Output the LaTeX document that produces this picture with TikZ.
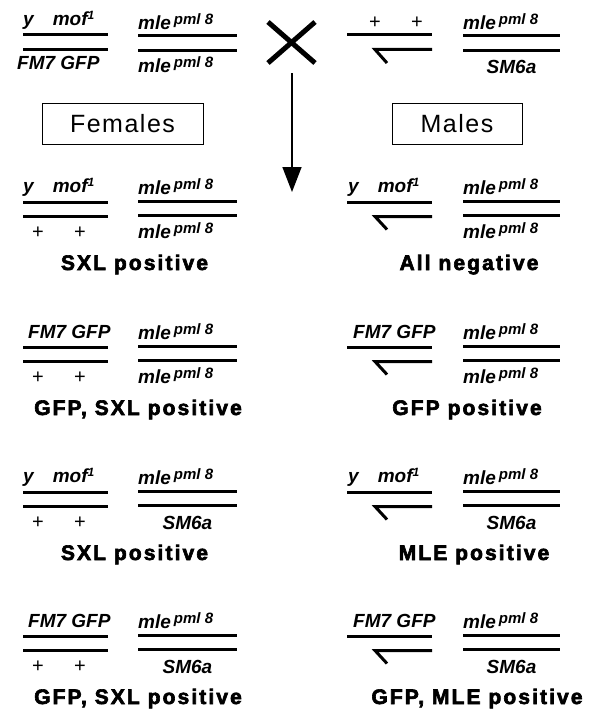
\documentclass[tikz,border=0pt]{standalone}
\usepackage{fontspec}
\setmainfont{Liberation Sans}
\usetikzlibrary{arrows.meta}
\newfontfamily\genoff{Liberation Sans}
\newfontfamily\labff{Liberation Sans}[LetterSpace=10,FakeBold=3]
\newfontfamily\boxff{Liberation Sans}[LetterSpace=6]
\newcommand\geno{\genoff\bfseries\itshape\fontsize{19}{19}\selectfont}
\newcommand\labf{\labff\bfseries\fontsize{21}{21}\selectfont}
\newcommand\boxf{\boxff\fontsize{25}{25}\selectfont}
\newcommand\pmlsup{\hspace{3pt}\raisebox{5pt}{\fontsize{15}{15}\selectfont pml 8}}
\newcommand\mofsup{\raisebox{6pt}{\fontsize{12}{12}\selectfont 1}}
\begin{document}
\begin{tikzpicture}[x=1pt,y=-1pt,
  bar/.style={line width=3pt},
  hookbar/.style={line width=3pt,line join=miter},
  geno/.style={inner sep=0pt,font=\geno},
  plus/.style={inner sep=0pt,font=\fontsize{20}{20}\selectfont},
  lab/.style={inner sep=0pt,font=\labf,anchor=base},
  sexbox/.style={draw,line width=0.8pt,minimum height=41pt,inner sep=0pt,font=\boxf}]
\useasboundingbox (0,0) rectangle (598,709);

% ---------- parents ----------
% female parent
\draw[bar] (23,35)--(108,35);
\draw[bar] (23,49.5)--(108,49.5);
\node[geno,anchor=base west] (pf1) at (23,25.5) {y\hspace{19pt}mof\mofsup};
\node[geno,anchor=base west] (pf2) at (17,70) {FM7 GFP};
\draw[bar] (138,35.5)--(237,35.5);
\draw[bar] (138,50.5)--(237,50.5);
\node[geno,anchor=base west] (pf3) at (138,30) {mle\pmlsup};
\node[geno,anchor=base west] (pf4) at (138,72) {mle\pmlsup};

% cross
\draw[line width=5pt] (268,22)--(315,63);
\draw[line width=5pt] (315,22)--(268,63);
\coordinate (arrS) at (292,73);
\coordinate (arrE) at (292,192);
\draw[line width=1.5pt,-{Triangle[length=25pt,width=19pt]}] (arrS)--(arrE);

% male parent
\draw[bar] (347,35)--(432,35);
\draw[hookbar] (387,63)--(375,49.5)--(432,49.5);
\node[plus] (pm1) at (375,23) {+};
\node[plus] (pm2) at (417,23) {+};
\draw[bar] (463,35.5)--(560,35.5);
\draw[bar] (463,50.5)--(560,50.5);
\node[geno,anchor=base west] (pm3) at (463,30) {mle\pmlsup};
\node[geno,anchor=base] (pm4) at (511.5,74) {SM6a};

% boxes
\node[sexbox,minimum width=161pt] (fembox) at (122.5,123.5) {Females};
\node[sexbox,minimum width=130pt] (malebox) at (457,123.5) {Males};

% ---------- row 1 ----------
\begin{scope}[shift={(0,202)}]
\draw[bar] (23,0)--(108,0);
\draw[bar] (23,14.5)--(108,14.5);
\node[geno,anchor=base west] (a1) at (23,-9.5) {y\hspace{19pt}mof\mofsup};
\node[plus] (a2) at (38,31) {+};
\node[plus] (a3) at (80,31) {+};
\draw[bar] (138,-1)--(237,-1);
\draw[bar] (138,13.5)--(237,13.5);
\node[geno,anchor=base west] (a4) at (138,-8) {mle\pmlsup};
\node[geno,anchor=base west] (a5) at (138,36) {mle\pmlsup};
\node[lab] (a6) at (134.5,68) {SXL positive};
%
\draw[bar] (347,0)--(432,0);
\draw[hookbar] (387,27.5)--(375,14.5)--(432,14.5);
\node[geno,anchor=base west] (b1) at (348,-9.5) {y\hspace{19pt}mof\mofsup};
\draw[bar] (463,-1)--(560,-1);
\draw[bar] (463,13.5)--(560,13.5);
\node[geno,anchor=base west] (b2) at (463,-8) {mle\pmlsup};
\node[geno,anchor=base west] (b3) at (463,36) {mle\pmlsup};
\node[lab] (b4) at (469,68) {All negative};
\end{scope}

% ---------- row 2 ----------
\begin{scope}[shift={(0,347)}]
\draw[bar] (23,0)--(108,0);
\draw[bar] (23,14.5)--(108,14.5);
\node[geno,anchor=base west] (c1) at (28,-8.5) {FM7 GFP};
\node[plus] (c2) at (38,31) {+};
\node[plus] (c3) at (80,31) {+};
\draw[bar] (138,-1)--(237,-1);
\draw[bar] (138,13.5)--(237,13.5);
\node[geno,anchor=base west] (c4) at (138,-8) {mle\pmlsup};
\node[geno,anchor=base west] (c5) at (138,36) {mle\pmlsup};
\node[lab] (c6) at (138,68) {GFP, SXL positive};
%
\draw[bar] (347,0)--(432,0);
\draw[hookbar] (387,27.5)--(375,14.5)--(432,14.5);
\node[geno,anchor=base west] (d1) at (353,-8.5) {FM7 GFP};
\draw[bar] (463,-1)--(560,-1);
\draw[bar] (463,13.5)--(560,13.5);
\node[geno,anchor=base west] (d2) at (463,-8) {mle\pmlsup};
\node[geno,anchor=base west] (d3) at (463,36) {mle\pmlsup};
\node[lab] (d4) at (467,68) {GFP positive};
\end{scope}

% ---------- row 3 ----------
\begin{scope}[shift={(0,492)}]
\draw[bar] (23,0)--(108,0);
\draw[bar] (23,14.5)--(108,14.5);
\node[geno,anchor=base west] (e1) at (23,-9.5) {y\hspace{19pt}mof\mofsup};
\node[plus] (e2) at (38,31) {+};
\node[plus] (e3) at (80,31) {+};
\draw[bar] (138,-1)--(237,-1);
\draw[bar] (138,13.5)--(237,13.5);
\node[geno,anchor=base west] (e4) at (138,-8) {mle\pmlsup};
\node[geno,anchor=base] (e5) at (187.5,37) {SM6a};
\node[lab] (e6) at (134.5,68) {SXL positive};
%
\draw[bar] (347,0)--(432,0);
\draw[hookbar] (387,27.5)--(375,14.5)--(432,14.5);
\node[geno,anchor=base west] (g1) at (348,-9.5) {y\hspace{19pt}mof\mofsup};
\draw[bar] (463,-1)--(560,-1);
\draw[bar] (463,13.5)--(560,13.5);
\node[geno,anchor=base west] (g2) at (463,-8) {mle\pmlsup};
\node[geno,anchor=base] (g3) at (511.5,37) {SM6a};
\node[lab] (g4) at (474,68) {MLE positive};
\end{scope}

% ---------- row 4 ----------
\begin{scope}[shift={(0,636)}]
\draw[bar] (23,0)--(108,0);
\draw[bar] (23,14.5)--(108,14.5);
\node[geno,anchor=base west] (h1) at (28,-8.5) {FM7 GFP};
\node[plus] (h2) at (38,31) {+};
\node[plus] (h3) at (80,31) {+};
\draw[bar] (138,-1)--(237,-1);
\draw[bar] (138,13.5)--(237,13.5);
\node[geno,anchor=base west] (h4) at (138,-8) {mle\pmlsup};
\node[geno,anchor=base] (h5) at (187.5,37) {SM6a};
\node[lab] (h6) at (138,68) {GFP, SXL positive};
%
\draw[bar] (347,0)--(432,0);
\draw[hookbar] (387,27.5)--(375,14.5)--(432,14.5);
\node[geno,anchor=base west] (k1) at (353,-8.5) {FM7 GFP};
\draw[bar] (463,-1)--(560,-1);
\draw[bar] (463,13.5)--(560,13.5);
\node[geno,anchor=base west] (k2) at (463,-8) {mle\pmlsup};
\node[geno,anchor=base] (k3) at (511.5,37) {SM6a};
\node[lab] (k4) at (477,68) {GFP, MLE positive};
\end{scope}
\end{tikzpicture}
\end{document}
